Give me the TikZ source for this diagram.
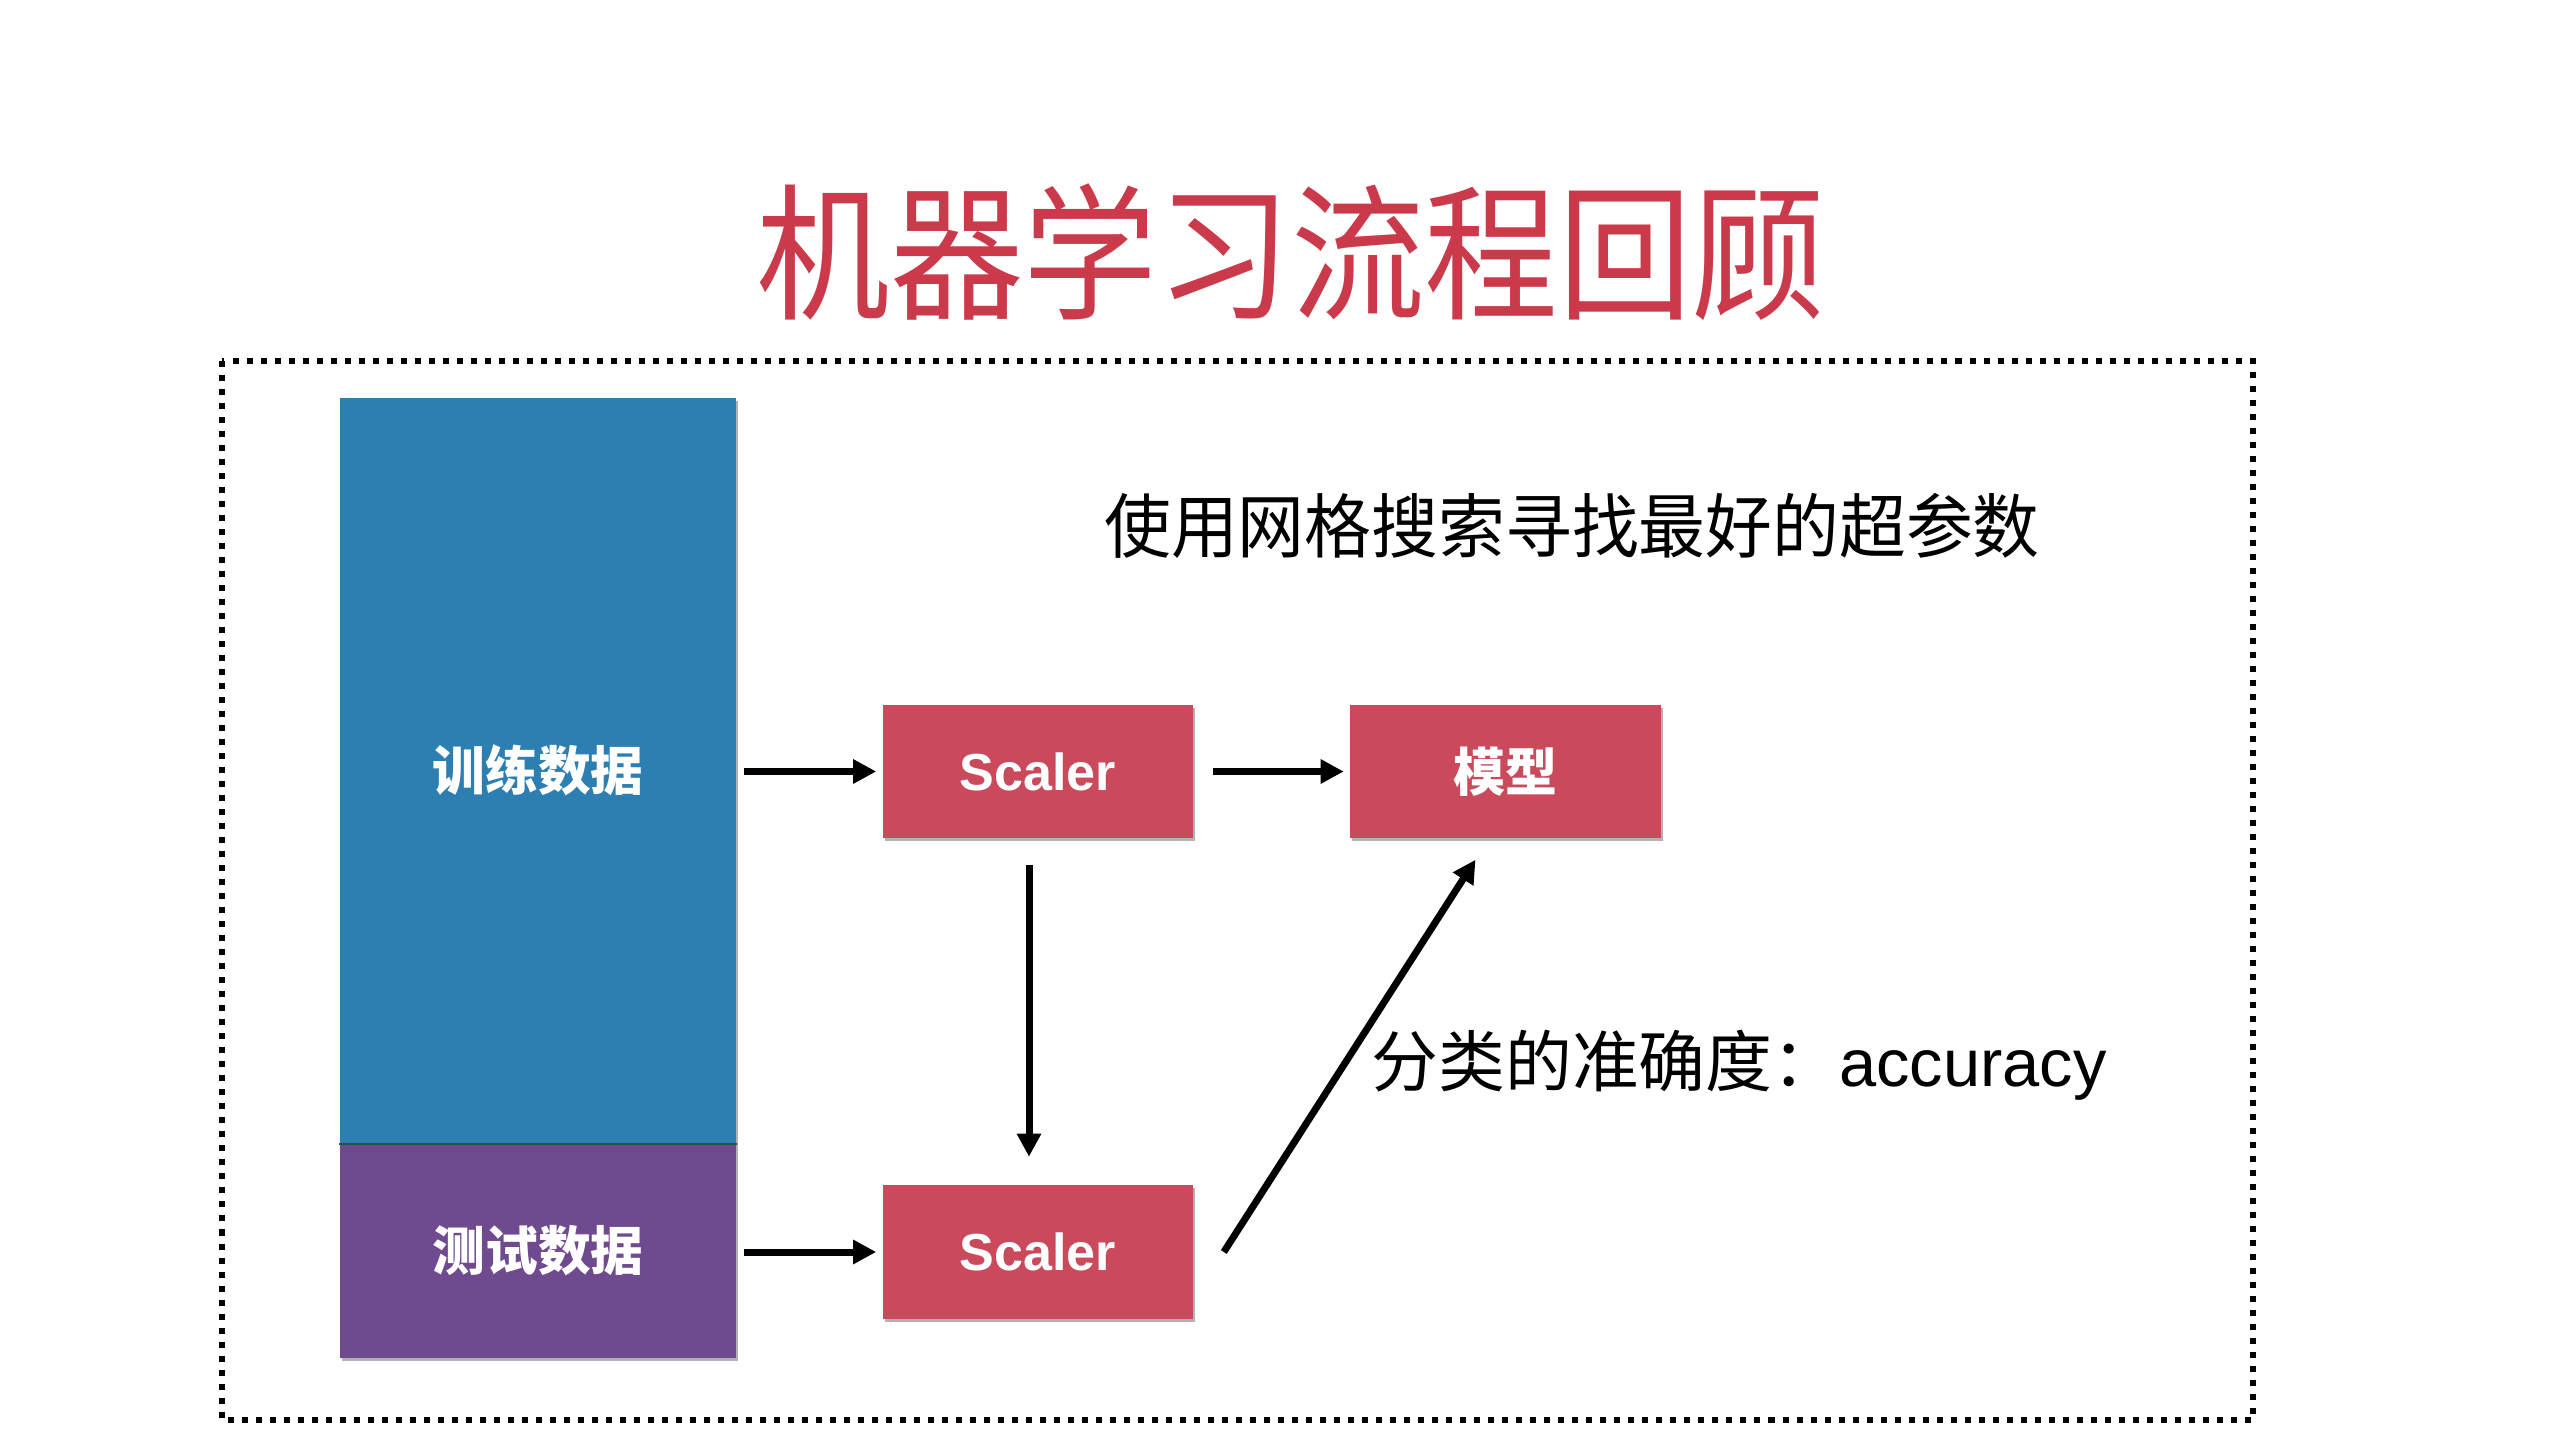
\documentclass[tikz,border=0pt]{standalone}
\usepackage{fontspec}
\setmainfont{Liberation Sans}
\newfontfamily\cjk{Noto Sans CJK SC}
\usetikzlibrary{arrows.meta,calc,shadows}
\definecolor{titlered}{HTML}{CA3A4B}
\definecolor{boxred}{HTML}{CA4A5C}
\definecolor{boxblue}{HTML}{2D7FB2}
\definecolor{boxpurple}{HTML}{704A8F}
\definecolor{divgreen}{HTML}{1E5A3A}
\begin{document}
\begin{tikzpicture}[x=0.01cm,y=-0.01cm,
  block/.style={draw=none, inner sep=0, text=white,
    drop shadow={shadow xshift=0.02cm, shadow yshift=-0.03cm, opacity=0.3, fill=black}},
  redbox/.style={block, fill=boxred, minimum width=3.10cm, minimum height=1.33cm,
    font=\fontsize{14.8pt}{17pt}\selectfont\bfseries},
  databox/.style={block, minimum width=3.96cm,
    font=\cjk\fontsize{15pt}{17pt}\selectfont\bfseries},
  arr/.style={line width=0.07cm, -{Triangle[length=0.23cm,width=0.23cm]}},
  frame/.style={line width=0.06cm, dash pattern=on 0.06cm off 0.08cm},
  label/.style={inner sep=0, text=black}
]
\useasboundingbox (0,0) rectangle (2560,1440);

% title
\node[label, text=titlered, font=\cjk\fontsize{38pt}{40pt}\selectfont] (title) at (1291,252)
  {\scalebox{1}[1.1]{机器学习流程回顾}};

% dotted frame
\draw[frame] (222,361) rectangle (2253,1420);

% data boxes
\node[databox, fill=boxblue, minimum height=7.45cm] (train) at (538,770.5) {训练数据};
\node[databox, fill=boxpurple, minimum height=2.15cm] (test) at (538,1250.5) {测试数据};
\draw[line width=0.02cm, draw=divgreen] (train.south west) -- (train.south east);

% red boxes
\node[redbox] (s1) at (1038,771.5) {Scaler};
\node[redbox] (model) at (1505.5,771.5) {\cjk\bfseries 模型};
\node[redbox] (s2) at (1038,1252) {Scaler};

% texts
\node[label, font=\cjk\fontsize{19pt}{21pt}\selectfont] (grid) at (1572,526)
  {\scalebox{1}[1.05]{使用网格搜索寻找最好的超参数}};
\node[label, anchor=base west, font=\fontsize{19pt}{21pt}\selectfont] (acc) at (1371,1086)
  {{\cjk 分类的准确度：}accuracy};

% arrows
\draw[arr, shorten <=0.07cm, shorten >=0.06cm] (train.east |- s1.west) -- (s1.west);
\draw[arr, shorten <=0.19cm, shorten >=0.06cm] (s1.east) -- (model.west);
\draw[arr, shorten <=0.26cm, shorten >=0.28cm] ([xshift=-0.09cm]s1.south) -- ([xshift=-0.09cm]s2.north);
\draw[arr, shorten <=0.07cm, shorten >=0.06cm] (test.east |- s2.west) -- (s2.west);
\coordinate (d0) at ($(s2.east)+(30,0)$);
\coordinate (d1) at ($(model.south)+(-30,21)$);
\draw[arr] (d0) -- (d1);
\end{tikzpicture}
\end{document}
